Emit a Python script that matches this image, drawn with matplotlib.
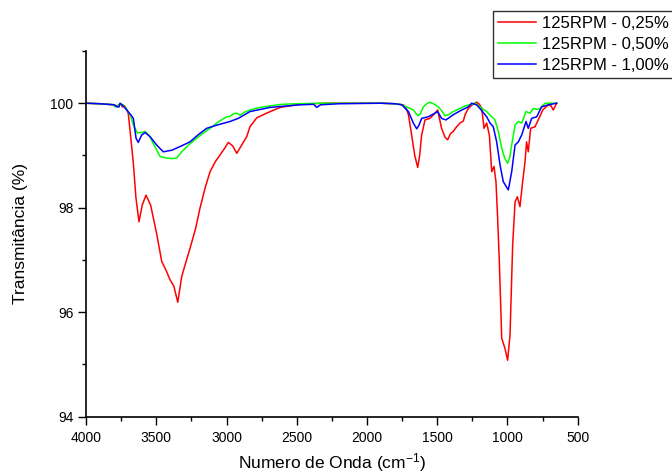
import numpy as np
import matplotlib
matplotlib.use("Agg")
import matplotlib.pyplot as plt
from matplotlib.ticker import MultipleLocator

plt.rcParams['font.family'] = ['Liberation Sans', 'DejaVu Sans']
plt.rcParams['mathtext.fontset'] = 'custom'
plt.rcParams['mathtext.rm'] = 'Liberation Sans'
plt.rcParams['mathtext.it'] = 'Liberation Sans'

# (wavenumber cm-1, transmittance %)
rpm_025 = [
    (4000, 100.0), (3900, 99.99), (3800, 99.97), (3790, 99.95), (3770, 99.96),
    (3755, 99.99), (3740, 99.93), (3725, 99.95), (3710, 99.88), (3699, 99.8),
    (3680, 99.3), (3663, 98.85), (3645, 98.2), (3623, 97.73), (3600, 98.05),
    (3573, 98.24), (3540, 98.05), (3497, 97.5), (3461, 96.97), (3430, 96.8),
    (3402, 96.62), (3375, 96.5), (3347, 96.19), (3319, 96.68), (3290, 96.95),
    (3260, 97.22), (3220, 97.6), (3189, 97.99), (3150, 98.4), (3117, 98.69),
    (3080, 98.88), (3046, 99.01), (3010, 99.15), (2987, 99.25), (2955, 99.18),
    (2927, 99.04), (2892, 99.2), (2856, 99.36), (2833, 99.55), (2785, 99.72),
    (2714, 99.81), (2619, 99.92), (2477, 99.98), (2400, 99.99), (2300, 100.0),
    (2100, 100.0), (1900, 100.0), (1800, 99.99), (1741, 99.97), (1720, 99.9),
    (1705, 99.78), (1682, 99.39), (1660, 99.0), (1639, 98.77), (1625, 99.0),
    (1611, 99.39), (1587, 99.68), (1552, 99.71), (1516, 99.81), (1497, 99.87),
    (1469, 99.52), (1445, 99.35), (1426, 99.3), (1405, 99.42), (1386, 99.46),
    (1362, 99.55), (1338, 99.62), (1314, 99.66), (1302, 99.78), (1279, 99.9),
    (1250, 99.97), (1219, 100.02), (1200, 99.98), (1183, 99.9), (1167, 99.52),
    (1148, 99.62), (1129, 99.39), (1112, 98.69), (1096, 98.79), (1082, 98.5),
    (1070, 97.8), (1058, 96.97), (1041, 95.5), (1018, 95.31), (999, 95.08),
    (982, 95.56), (963, 97.29), (946, 98.11), (930, 98.21), (911, 98.02),
    (892, 98.5), (875, 98.88), (864, 99.26), (852, 99.07), (835, 99.52),
    (804, 99.55), (781, 99.68), (749, 99.87), (709, 99.97), (690, 99.95),
    (674, 99.87), (650, 100.0),
]

rpm_050 = [
    (4000, 100.0), (3900, 99.99), (3800, 99.97), (3794, 99.93), (3775, 99.95),
    (3758, 99.99), (3735, 99.97), (3710, 99.88), (3682, 99.76), (3663, 99.58),
    (3634, 99.43), (3600, 99.44), (3580, 99.46), (3550, 99.38), (3521, 99.23),
    (3473, 98.98), (3426, 98.95), (3390, 98.94), (3355, 98.95), (3319, 99.07),
    (3270, 99.2), (3212, 99.33), (3160, 99.44), (3117, 99.52), (3060, 99.64),
    (2999, 99.74), (2975, 99.75), (2950, 99.8), (2927, 99.81), (2904, 99.77),
    (2870, 99.83), (2833, 99.87), (2760, 99.92), (2690, 99.95), (2600, 99.98),
    (2500, 99.99), (2300, 100.0), (2100, 100.0), (1900, 100.0), (1800, 99.99),
    (1753, 99.97), (1720, 99.93), (1690, 99.9), (1670, 99.87), (1650, 99.8),
    (1635, 99.76), (1620, 99.8), (1599, 99.93), (1575, 99.99), (1552, 100.02),
    (1520, 99.98), (1492, 99.93), (1470, 99.86), (1445, 99.76), (1420, 99.78),
    (1386, 99.84), (1338, 99.9), (1300, 99.95), (1267, 99.97), (1230, 100.0),
    (1196, 99.93), (1170, 99.88), (1148, 99.84), (1112, 99.74), (1089, 99.68),
    (1065, 99.46), (1041, 99.14), (1020, 98.95), (999, 98.85), (985, 98.95),
    (970, 99.2), (946, 99.58), (923, 99.65), (899, 99.62), (868, 99.84),
    (840, 99.81), (816, 99.9), (790, 99.88), (768, 99.9), (733, 100.0),
    (697, 100.0), (650, 100.0),
]

rpm_100 = [
    (4000, 100.0), (3900, 99.99), (3800, 99.97), (3794, 99.96), (3780, 99.93),
    (3765, 99.93), (3758, 100.0), (3740, 99.96), (3710, 99.87), (3682, 99.78),
    (3663, 99.71), (3644, 99.33), (3628, 99.25), (3604, 99.39), (3580, 99.44),
    (3544, 99.36), (3497, 99.2), (3450, 99.07), (3390, 99.1), (3331, 99.17),
    (3260, 99.26), (3200, 99.4), (3141, 99.52), (3070, 99.58), (2975, 99.65),
    (2916, 99.71), (2833, 99.84), (2690, 99.92), (2477, 99.97), (2380, 99.98),
    (2358, 99.92), (2330, 99.97), (2200, 99.99), (1900, 100.0), (1800, 99.99),
    (1753, 99.97), (1705, 99.84), (1670, 99.62), (1646, 99.51), (1630, 99.58),
    (1611, 99.71), (1564, 99.74), (1516, 99.81), (1497, 99.84), (1469, 99.71),
    (1438, 99.68), (1386, 99.78), (1326, 99.87), (1279, 99.93), (1255, 100.0),
    (1220, 99.97), (1196, 99.9), (1148, 99.74), (1124, 99.62), (1101, 99.55),
    (1077, 99.26), (1053, 98.82), (1030, 98.5), (994, 98.34), (970, 98.69),
    (946, 99.2), (923, 99.26), (899, 99.39), (868, 99.65), (852, 99.52),
    (828, 99.71), (792, 99.74), (757, 99.93), (709, 99.97), (650, 100.0),
]

series = [
    (rpm_025, '125RPM - 0,25%', '#ff0000'),
    (rpm_050, '125RPM - 0,50%', '#00ff00'),
    (rpm_100, '125RPM - 1,00%', '#0000ff'),
]

fig = plt.figure(figsize=(6.72, 4.76), dpi=100)
ax = fig.add_axes([0.128, 0.1246, 0.7317, 0.7683])

for data, label, color in series:
    wn, tr = np.array(data).T
    ax.plot(wn, tr, color=color, lw=1.1, label=label)

ax.set_xlim(4000, 500)
ax.set_ylim(94, 101)
ax.xaxis.set_major_locator(MultipleLocator(500))
ax.xaxis.set_minor_locator(MultipleLocator(250))
ax.yaxis.set_major_locator(MultipleLocator(2))
ax.yaxis.set_minor_locator(MultipleLocator(1))
ax.tick_params(which='major', direction='out', length=5.5, width=1, labelsize=10)
ax.tick_params(axis='x', which='major', pad=5)
ax.tick_params(which='minor', direction='out', length=3, width=1)

for s in ['top', 'right']:
    ax.spines[s].set_visible(False)
for s in ['left', 'bottom']:
    ax.spines[s].set_linewidth(1.2)

ax.set_xlabel('Numero de Onda (cm$^{-1}$)', fontsize=12.5, labelpad=4)
ax.set_ylabel('Transmitância (%)', fontsize=12.5, labelpad=16)

leg = fig.legend(loc='upper left', bbox_to_anchor=(493 / 672, 1 - 11 / 476),
                 fontsize=12, frameon=True, fancybox=False, framealpha=1,
                 edgecolor='#333333', borderaxespad=0, borderpad=0.3,
                 handlelength=2.3, handletextpad=0.35, labelspacing=0.35)
leg.get_frame().set_linewidth(1.0)

fig.savefig('out.png', dpi=100)
